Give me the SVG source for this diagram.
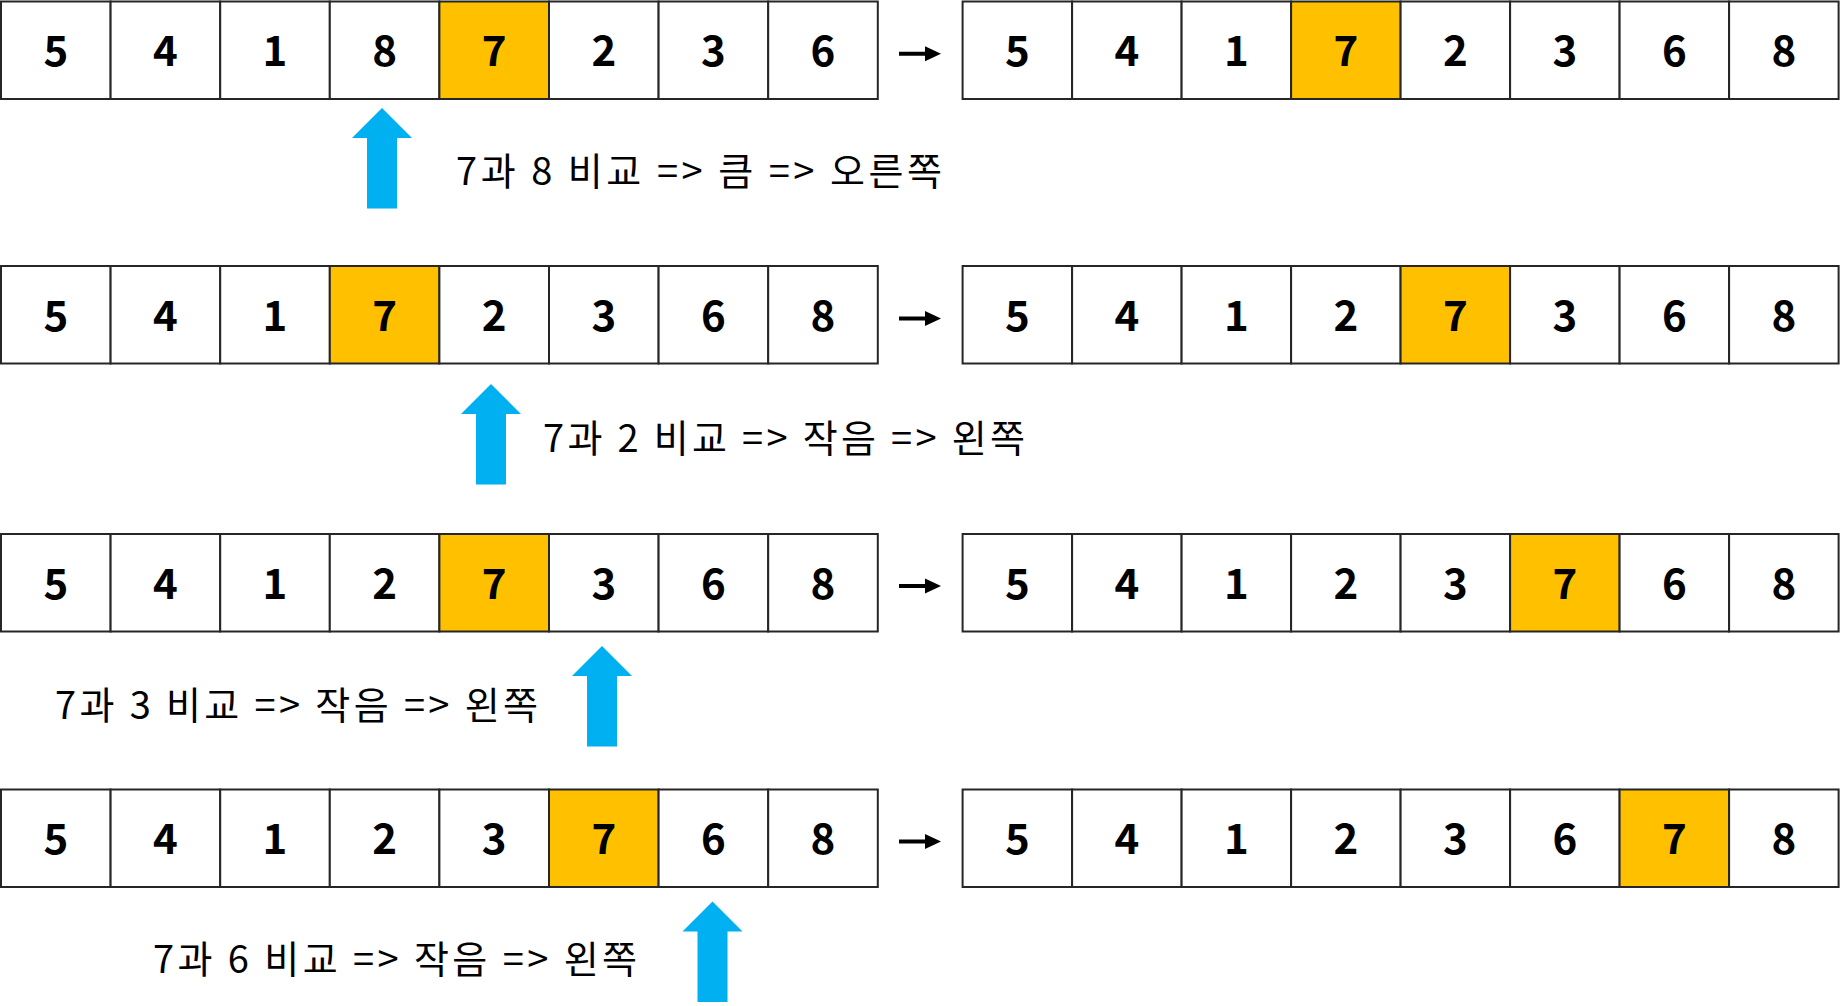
<svg xmlns="http://www.w3.org/2000/svg" width="1842" height="1006" viewBox="0 0 1842 1006">
<style>
.c{fill:#FFFFFF;stroke:#262626;stroke-width:2}
.h{fill:#FFC000;stroke:#262626;stroke-width:2}
.d{font-family:"Noto Sans CJK KR","Noto Sans",sans-serif;font-weight:bold;font-size:42px;text-anchor:middle;fill:#000}
.l{font-family:"Noto Sans CJK KR","Noto Sans",sans-serif;font-size:38px;fill:#000}
.up{fill:#00B0F0}
.ar{fill:#000}
</style>
<defs>
<polygon id="upArrow" class="up" points="0,0 30,30 15,30 15,100.5 -15,100.5 -15,30 -30,30"/>
<g id="rightArrow"><rect x="899" y="-2" width="28" height="4"/><polygon points="925,-7.5 941,0 925,7.5"/></g>
</defs>
<rect width="1842" height="1006" fill="#FFFFFF"/>

<!-- Row 1 -->
<g id="row1-before" transform="translate(1,1.5)">
<rect class="c" x="0" y="0" width="109.6" height="97.5"/><rect class="c" x="109.6" y="0" width="109.6" height="97.5"/><rect class="c" x="219.2" y="0" width="109.6" height="97.5"/><rect class="c" x="328.8" y="0" width="109.6" height="97.5"/><rect class="h" x="438.4" y="0" width="109.6" height="97.5"/><rect class="c" x="548" y="0" width="109.6" height="97.5"/><rect class="c" x="657.6" y="0" width="109.6" height="97.5"/><rect class="c" x="767.2" y="0" width="109.6" height="97.5"/>
<text class="d" x="54.8" y="64.75">5</text><text class="d" x="164.4" y="64.75">4</text><text class="d" x="274" y="64.75">1</text><text class="d" x="383.6" y="64.75">8</text><text class="d" x="493.2" y="64.75">7</text><text class="d" x="602.8" y="64.75">2</text><text class="d" x="712.4" y="64.75">3</text><text class="d" x="822" y="64.75">6</text>
</g>
<g id="row1-after" transform="translate(962.6,1.5)">
<rect class="c" x="0" y="0" width="109.5" height="97.5"/><rect class="c" x="109.5" y="0" width="109.5" height="97.5"/><rect class="c" x="219" y="0" width="109.5" height="97.5"/><rect class="h" x="328.5" y="0" width="109.5" height="97.5"/><rect class="c" x="438" y="0" width="109.5" height="97.5"/><rect class="c" x="547.5" y="0" width="109.5" height="97.5"/><rect class="c" x="657" y="0" width="109.5" height="97.5"/><rect class="c" x="766.5" y="0" width="109.5" height="97.5"/>
<text class="d" x="54.75" y="64.75">5</text><text class="d" x="164.25" y="64.75">4</text><text class="d" x="273.75" y="64.75">1</text><text class="d" x="383.25" y="64.75">7</text><text class="d" x="492.75" y="64.75">2</text><text class="d" x="602.25" y="64.75">3</text><text class="d" x="711.75" y="64.75">6</text><text class="d" x="821.25" y="64.75">8</text>
</g>

<!-- Row 2 -->
<g id="row2-before" transform="translate(1,266)">
<rect class="c" x="0" y="0" width="109.6" height="97.5"/><rect class="c" x="109.6" y="0" width="109.6" height="97.5"/><rect class="c" x="219.2" y="0" width="109.6" height="97.5"/><rect class="h" x="328.8" y="0" width="109.6" height="97.5"/><rect class="c" x="438.4" y="0" width="109.6" height="97.5"/><rect class="c" x="548" y="0" width="109.6" height="97.5"/><rect class="c" x="657.6" y="0" width="109.6" height="97.5"/><rect class="c" x="767.2" y="0" width="109.6" height="97.5"/>
<text class="d" x="54.8" y="64.75">5</text><text class="d" x="164.4" y="64.75">4</text><text class="d" x="274" y="64.75">1</text><text class="d" x="383.6" y="64.75">7</text><text class="d" x="493.2" y="64.75">2</text><text class="d" x="602.8" y="64.75">3</text><text class="d" x="712.4" y="64.75">6</text><text class="d" x="822" y="64.75">8</text>
</g>
<g id="row2-after" transform="translate(962.6,266)">
<rect class="c" x="0" y="0" width="109.5" height="97.5"/><rect class="c" x="109.5" y="0" width="109.5" height="97.5"/><rect class="c" x="219" y="0" width="109.5" height="97.5"/><rect class="c" x="328.5" y="0" width="109.5" height="97.5"/><rect class="h" x="438" y="0" width="109.5" height="97.5"/><rect class="c" x="547.5" y="0" width="109.5" height="97.5"/><rect class="c" x="657" y="0" width="109.5" height="97.5"/><rect class="c" x="766.5" y="0" width="109.5" height="97.5"/>
<text class="d" x="54.75" y="64.75">5</text><text class="d" x="164.25" y="64.75">4</text><text class="d" x="273.75" y="64.75">1</text><text class="d" x="383.25" y="64.75">2</text><text class="d" x="492.75" y="64.75">7</text><text class="d" x="602.25" y="64.75">3</text><text class="d" x="711.75" y="64.75">6</text><text class="d" x="821.25" y="64.75">8</text>
</g>

<!-- Row 3 -->
<g id="row3-before" transform="translate(1,534)">
<rect class="c" x="0" y="0" width="109.6" height="97.5"/><rect class="c" x="109.6" y="0" width="109.6" height="97.5"/><rect class="c" x="219.2" y="0" width="109.6" height="97.5"/><rect class="c" x="328.8" y="0" width="109.6" height="97.5"/><rect class="h" x="438.4" y="0" width="109.6" height="97.5"/><rect class="c" x="548" y="0" width="109.6" height="97.5"/><rect class="c" x="657.6" y="0" width="109.6" height="97.5"/><rect class="c" x="767.2" y="0" width="109.6" height="97.5"/>
<text class="d" x="54.8" y="64.75">5</text><text class="d" x="164.4" y="64.75">4</text><text class="d" x="274" y="64.75">1</text><text class="d" x="383.6" y="64.75">2</text><text class="d" x="493.2" y="64.75">7</text><text class="d" x="602.8" y="64.75">3</text><text class="d" x="712.4" y="64.75">6</text><text class="d" x="822" y="64.75">8</text>
</g>
<g id="row3-after" transform="translate(962.6,534)">
<rect class="c" x="0" y="0" width="109.5" height="97.5"/><rect class="c" x="109.5" y="0" width="109.5" height="97.5"/><rect class="c" x="219" y="0" width="109.5" height="97.5"/><rect class="c" x="328.5" y="0" width="109.5" height="97.5"/><rect class="c" x="438" y="0" width="109.5" height="97.5"/><rect class="h" x="547.5" y="0" width="109.5" height="97.5"/><rect class="c" x="657" y="0" width="109.5" height="97.5"/><rect class="c" x="766.5" y="0" width="109.5" height="97.5"/>
<text class="d" x="54.75" y="64.75">5</text><text class="d" x="164.25" y="64.75">4</text><text class="d" x="273.75" y="64.75">1</text><text class="d" x="383.25" y="64.75">2</text><text class="d" x="492.75" y="64.75">3</text><text class="d" x="602.25" y="64.75">7</text><text class="d" x="711.75" y="64.75">6</text><text class="d" x="821.25" y="64.75">8</text>
</g>

<!-- Row 4 -->
<g id="row4-before" transform="translate(1,789.5)">
<rect class="c" x="0" y="0" width="109.6" height="97.5"/><rect class="c" x="109.6" y="0" width="109.6" height="97.5"/><rect class="c" x="219.2" y="0" width="109.6" height="97.5"/><rect class="c" x="328.8" y="0" width="109.6" height="97.5"/><rect class="c" x="438.4" y="0" width="109.6" height="97.5"/><rect class="h" x="548" y="0" width="109.6" height="97.5"/><rect class="c" x="657.6" y="0" width="109.6" height="97.5"/><rect class="c" x="767.2" y="0" width="109.6" height="97.5"/>
<text class="d" x="54.8" y="64.75">5</text><text class="d" x="164.4" y="64.75">4</text><text class="d" x="274" y="64.75">1</text><text class="d" x="383.6" y="64.75">2</text><text class="d" x="493.2" y="64.75">3</text><text class="d" x="602.8" y="64.75">7</text><text class="d" x="712.4" y="64.75">6</text><text class="d" x="822" y="64.75">8</text>
</g>
<g id="row4-after" transform="translate(962.6,789.5)">
<rect class="c" x="0" y="0" width="109.5" height="97.5"/><rect class="c" x="109.5" y="0" width="109.5" height="97.5"/><rect class="c" x="219" y="0" width="109.5" height="97.5"/><rect class="c" x="328.5" y="0" width="109.5" height="97.5"/><rect class="c" x="438" y="0" width="109.5" height="97.5"/><rect class="c" x="547.5" y="0" width="109.5" height="97.5"/><rect class="h" x="657" y="0" width="109.5" height="97.5"/><rect class="c" x="766.5" y="0" width="109.5" height="97.5"/>
<text class="d" x="54.75" y="64.75">5</text><text class="d" x="164.25" y="64.75">4</text><text class="d" x="273.75" y="64.75">1</text><text class="d" x="383.25" y="64.75">2</text><text class="d" x="492.75" y="64.75">3</text><text class="d" x="602.25" y="64.75">6</text><text class="d" x="711.75" y="64.75">7</text><text class="d" x="821.25" y="64.75">8</text>
</g>

<!-- Pointer arrows -->
<g id="pointer1"><use href="#upArrow" x="382" y="108"/></g>
<g id="pointer2"><use href="#upArrow" x="491" y="384"/></g>
<g id="pointer3"><use href="#upArrow" x="602" y="646"/></g>
<g id="pointer4"><use href="#upArrow" x="712.5" y="901.5"/></g>

<!-- Labels -->
<g id="label1"><text class="l" x="456" y="185" textLength="486" lengthAdjust="spacing">7과 8 비교 =&gt; 큼 =&gt; 오른쪽</text></g>
<g id="label2"><text class="l" x="543" y="451.5" textLength="482" lengthAdjust="spacing">7과 2 비교 =&gt; 작음 =&gt; 왼쪽</text></g>
<g id="label3"><text class="l" x="55" y="718.5" textLength="483" lengthAdjust="spacing">7과 3 비교 =&gt; 작음 =&gt; 왼쪽</text></g>
<g id="label4"><text class="l" x="153" y="973" textLength="484" lengthAdjust="spacing">7과 6 비교 =&gt; 작음 =&gt; 왼쪽</text></g>

<!-- Connectors -->
<g id="connectors" class="ar">
<use href="#rightArrow" y="53.75"/>
<use href="#rightArrow" y="318.5"/>
<use href="#rightArrow" y="586"/>
<use href="#rightArrow" y="841.5"/>
</g>
</svg>
